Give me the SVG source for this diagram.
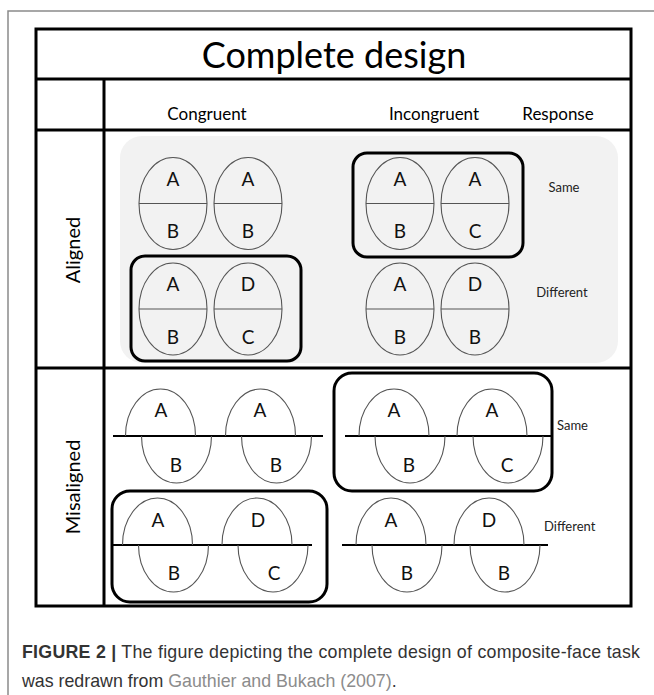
<svg xmlns="http://www.w3.org/2000/svg" xmlns:xlink="http://www.w3.org/1999/xlink" width="654" height="695" viewBox="0 0 654 695">
  <style>
    .frame { fill: none; stroke: #8a8a8a; stroke-width: 1.5; }
    .grid { fill: none; stroke: #000; stroke-width: 3; }
    .hdr { font-family: Lato, "Open Sans", sans-serif; fill: #000; }
    .face { fill: none; stroke: #555; stroke-width: 1.1; }
    .cut { stroke: #000; stroke-width: 2; }
    .box { fill: none; stroke: #000; stroke-width: 3; }
    .ltr { font-family: Lato, "Open Sans", sans-serif; font-size: 19px; fill: #111; text-anchor: middle; }
    .resp { font-family: Lato, "Open Sans", sans-serif; font-size: 13px; fill: #222; }
    .cap { font-family: "Liberation Sans", Arial, sans-serif; font-size: 17.8px; fill: #333; }
    .link { fill: #8c8c8c; }
  </style>
  <defs>
    <!-- aligned composite: whole oval split at the middle -->
    <g id="aligned-face">
      <ellipse class="face" cx="0" cy="0" rx="34" ry="46"/>
      <line class="face" x1="-34" y1="0" x2="34" y2="0"/>
    </g>
    <!-- misaligned composite: top half on the cut, bottom half shifted right -->
    <g id="misaligned-face">
      <path class="face" d="M -35 0 A 35 47 0 0 1 35 0"/>
      <path class="face" d="M -19 0 A 35 47 0 0 0 51 0"/>
    </g>
  </defs>

  <!-- page frame -->
  <path class="frame" d="M 654 11 H 8 V 695"/>

  <!-- table -->
  <g id="table">
    <rect class="grid" x="36" y="29" width="595" height="577"/>
    <line class="grid" x1="36" y1="79" x2="631" y2="79"/>
    <line class="grid" x1="36" y1="130" x2="631" y2="130"/>
    <line class="grid" x1="36" y1="368" x2="631" y2="368"/>
    <line class="grid" x1="104" y1="79" x2="104" y2="606"/>
    <text class="hdr" x="334" y="68" font-size="36" text-anchor="middle">Complete design</text>
    <text class="hdr" x="207" y="120" font-size="17" text-anchor="middle">Congruent</text>
    <text class="hdr" x="434" y="120" font-size="17" text-anchor="middle">Incongruent</text>
    <text class="hdr" x="558" y="120" font-size="17" text-anchor="middle">Response</text>
    <text class="hdr" font-size="20" text-anchor="middle" transform="translate(80 250) rotate(-90)">Aligned</text>
    <text class="hdr" font-size="20" text-anchor="middle" transform="translate(80 487) rotate(-90)">Misaligned</text>
  </g>

  <!-- aligned condition -->
  <g id="aligned">
    <rect x="120" y="136" width="498" height="227" rx="22" fill="#f2f2f2"/>

    <g id="al-cong-same">
      <use xlink:href="#aligned-face" x="173" y="203.5"/>
      <use xlink:href="#aligned-face" x="248" y="203.5"/>
      <text class="ltr" x="173" y="186">A</text>
      <text class="ltr" x="173" y="238">B</text>
      <text class="ltr" x="248" y="186">A</text>
      <text class="ltr" x="248" y="238">B</text>
    </g>

    <g id="al-cong-diff">
      <rect class="box" x="131" y="256" width="170" height="105" rx="14"/>
      <use xlink:href="#aligned-face" x="173" y="309"/>
      <use xlink:href="#aligned-face" x="248" y="309"/>
      <text class="ltr" x="173" y="291">A</text>
      <text class="ltr" x="173" y="344">B</text>
      <text class="ltr" x="248" y="291">D</text>
      <text class="ltr" x="248" y="344">C</text>
    </g>

    <g id="al-incong-same">
      <rect class="box" x="353" y="153" width="170" height="104" rx="14"/>
      <use xlink:href="#aligned-face" x="400" y="203.5"/>
      <use xlink:href="#aligned-face" x="475" y="203.5"/>
      <text class="ltr" x="400" y="186">A</text>
      <text class="ltr" x="400" y="238">B</text>
      <text class="ltr" x="475" y="186">A</text>
      <text class="ltr" x="475" y="238">C</text>
    </g>

    <g id="al-incong-diff">
      <use xlink:href="#aligned-face" x="400" y="309"/>
      <use xlink:href="#aligned-face" x="475" y="309"/>
      <text class="ltr" x="400" y="291">A</text>
      <text class="ltr" x="400" y="344">B</text>
      <text class="ltr" x="475" y="291">D</text>
      <text class="ltr" x="475" y="344">B</text>
    </g>

    <text class="resp" x="564" y="192" text-anchor="middle">Same</text>
    <text class="resp" x="562" y="297" text-anchor="middle">Different</text>
  </g>

  <!-- misaligned condition -->
  <g id="misaligned">
    <g id="mis-cong-same">
      <line class="cut" x1="113" y1="436" x2="323" y2="436"/>
      <use xlink:href="#misaligned-face" x="160.5" y="436"/>
      <use xlink:href="#misaligned-face" x="260.5" y="436"/>
      <text class="ltr" x="161" y="417">A</text>
      <text class="ltr" x="176" y="472">B</text>
      <text class="ltr" x="260" y="417">A</text>
      <text class="ltr" x="276" y="472">B</text>
    </g>

    <g id="mis-cong-diff">
      <rect class="box" x="112" y="491" width="215" height="111" rx="18"/>
      <line class="cut" x1="112" y1="545" x2="312" y2="545"/>
      <use xlink:href="#misaligned-face" x="157.5" y="545"/>
      <use xlink:href="#misaligned-face" x="257" y="545"/>
      <text class="ltr" x="158" y="527">A</text>
      <text class="ltr" x="174" y="580">B</text>
      <text class="ltr" x="258" y="527">D</text>
      <text class="ltr" x="274" y="580">C</text>
    </g>

    <g id="mis-incong-same">
      <rect class="box" x="334" y="373" width="218" height="118" rx="18"/>
      <line class="cut" x1="345" y1="436" x2="552" y2="436"/>
      <use xlink:href="#misaligned-face" x="394" y="436"/>
      <use xlink:href="#misaligned-face" x="492" y="436"/>
      <text class="ltr" x="394" y="417">A</text>
      <text class="ltr" x="409" y="472">B</text>
      <text class="ltr" x="492" y="417">A</text>
      <text class="ltr" x="507" y="472">C</text>
    </g>

    <g id="mis-incong-diff">
      <line class="cut" x1="342" y1="545" x2="548" y2="545"/>
      <use xlink:href="#misaligned-face" x="391" y="545"/>
      <use xlink:href="#misaligned-face" x="489" y="545"/>
      <text class="ltr" x="391" y="527">A</text>
      <text class="ltr" x="407" y="580">B</text>
      <text class="ltr" x="489" y="527">D</text>
      <text class="ltr" x="504" y="580">B</text>
    </g>

    <text class="resp" x="557" y="430">Same</text>
    <text class="resp" x="544" y="531">Different</text>
  </g>

  <!-- caption -->
  <g id="caption">
    <text class="cap" x="22" y="658" textLength="618" lengthAdjust="spacing"><tspan font-weight="bold">FIGURE 2 |</tspan> The figure depicting the complete design of composite-face task</text>
    <text class="cap" x="22" y="687">was redrawn from <tspan class="link">Gauthier and Bukach (2007)</tspan>.</text>
  </g>
</svg>
